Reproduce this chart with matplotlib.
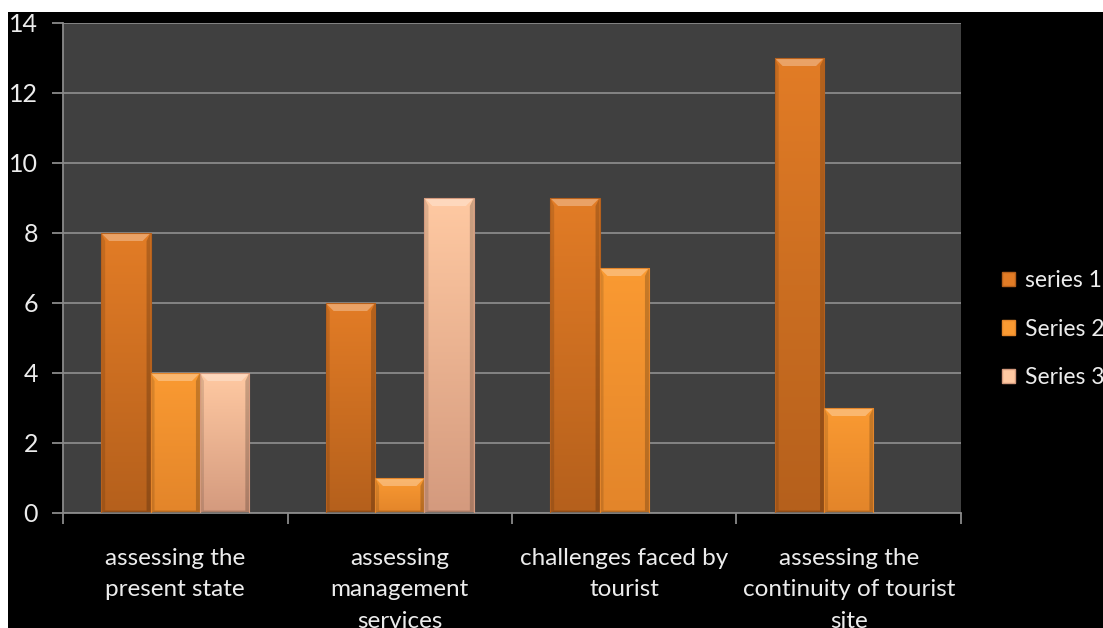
import numpy as np
import matplotlib
matplotlib.use("Agg")
import matplotlib.pyplot as plt
from matplotlib.patches import Rectangle, Polygon, Patch
from matplotlib.colors import to_rgb

categories = ["assessing the\npresent state",
              "assessing\nmanagement\nservices",
              "challenges faced by\ntourist",
              "assessing the\ncontinuity of tourist\nsite"]
series_names = ["series 1", "Series 2", "Series 3"]
series1 = [8, 6, 9, 13]
series2 = [4, 1, 7, 3]
series3 = [4, 9, 0, 0]

# (top colour, bottom colour) per series
colors = [("#e27c26", "#b5601c"),
          ("#fa9a32", "#e3852a"),
          ("#ffc9a2", "#d49a7e")]

plt.rcParams["font.family"] = ["Lato", "DejaVu Sans"]
text_color = "#ececec"
grid_color = "#8a8a8a"

fig = plt.figure(figsize=(11.03, 6.28), dpi=100)
fig.patch.set_facecolor("white")
# black slide background (white strip top and left like the screenshot)
fig.patches.append(Rectangle((8 / 1103, 0), 1, 1 - 12 / 628, transform=fig.transFigure,
                             facecolor="black", edgecolor="none", zorder=-5))

ax = fig.add_axes([63 / 1103, 115 / 628, 898 / 1103, 490 / 628])
ax.set_facecolor("#404040")

x = np.arange(len(categories))
w = 0.22
all_series = [series1, series2, series3]

ax.set_xlim(-0.5, len(categories) - 0.5)
ax.set_ylim(0, 14)


def shade_bar(bar, top, bottom):
    x0, w0, h = bar.get_x(), bar.get_width(), bar.get_height()
    if h <= 0:
        return
    c_top, c_bot = np.array(to_rgb(top)), np.array(to_rgb(bottom))
    t = np.linspace(0, 1, 64)[:, None]
    grad = (c_top * (1 - t) + c_bot * t)[:, None, :]
    img = ax.imshow(grad, extent=(x0, x0 + w0, 0, h), aspect="auto",
                    origin="upper", zorder=2, interpolation="bilinear")
    img.set_clip_path(bar)
    # bevel: pixel size converted to data units
    bx = 8 / 224.5
    by = 8 / 35.0
    by = min(by, h / 2)
    ax.add_patch(Polygon([(x0, h), (x0 + w0, h), (x0 + w0 - bx, h - by), (x0 + bx, h - by)],
                         closed=True, facecolor="white", alpha=0.3, edgecolor="none", zorder=3))
    ax.add_patch(Polygon([(x0, 0), (x0 + bx * 0.5, by * 0.3), (x0 + bx * 0.5, h - by), (x0, h)],
                         closed=True, facecolor="black", alpha=0.12, edgecolor="none", zorder=3))
    ax.add_patch(Polygon([(x0 + w0, 0), (x0 + w0 - bx * 0.5, by * 0.3), (x0 + w0 - bx * 0.5, h - by), (x0 + w0, h)],
                         closed=True, facecolor="black", alpha=0.2, edgecolor="none", zorder=3))
    ax.add_patch(Polygon([(x0, 0), (x0 + w0, 0), (x0 + w0 - bx * 0.5, by * 0.3), (x0 + bx * 0.5, by * 0.3)],
                         closed=True, facecolor="black", alpha=0.2, edgecolor="none", zorder=3))
    ax.add_patch(Rectangle((x0, 0), w0, h, facecolor="none", edgecolor=bottom,
                           linewidth=0.8, zorder=4))


for i, (vals, (ctop, cbot)) in enumerate(zip(all_series, colors)):
    bars = ax.bar(x + (i - 1) * w, vals, w, color=cbot, edgecolor="none", zorder=2)
    for b in bars:
        shade_bar(b, ctop, cbot)

ax.set_yticks(np.arange(0, 15, 2))
ax.yaxis.grid(True, color=grid_color, linewidth=1.3)
ax.set_axisbelow(True)
ax.set_xticks(np.arange(-0.5, len(categories), 1))
ax.set_xticklabels([])
ax.set_xticks(x, minor=True)
ax.set_xticklabels(categories, minor=True)
ax.tick_params(axis="x", which="minor", length=0, pad=25, labelsize=17.5,
               labelcolor=text_color)
ax.tick_params(axis="x", which="major", length=8, color=grid_color, width=1.3)
ax.tick_params(axis="y", length=8, color=grid_color, width=1.3, pad=10,
               labelsize=18, labelcolor=text_color)
for lab in ax.get_xticklabels(minor=True):
    lab.set_linespacing(1.62)

for side in ["top", "right"]:
    ax.spines[side].set_visible(False)
for side in ["left", "bottom"]:
    ax.spines[side].set_color(grid_color)
    ax.spines[side].set_linewidth(1.3)

handles = [Patch(facecolor=ctop, edgecolor=cbot) for ctop, cbot in colors]
leg = fig.legend(handles, series_names, loc="center left",
                 bbox_to_anchor=(981 / 1103, 1 - 329 / 628), frameon=False,
                 fontsize=16.5, labelcolor=text_color, handlelength=0.6,
                 handleheight=0.6, handletextpad=0.4, labelspacing=1.2)

fig.savefig("out.png", dpi=100, facecolor=fig.get_facecolor())
